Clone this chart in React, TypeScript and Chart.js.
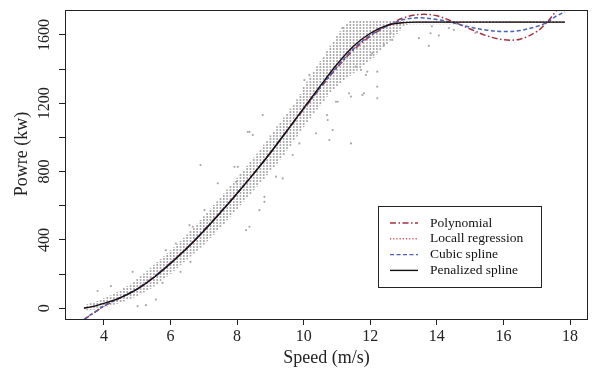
import React, { useEffect, useRef } from 'react';
import { Chart, registerables } from 'chart.js';

Chart.register(...registerables);

const SERIF = '"Liberation Serif", "Times New Roman", serif';

// ---- fitted curves (speed m/s -> power kW) ----
const curveSpeeds = [3.4, 3.6, 3.8, 4.0, 4.5, 5.0, 5.5, 6.0, 6.5, 7.0, 7.5, 8.0, 8.5, 9.0, 9.5, 10.0, 10.5, 11.0, 11.5, 12.0, 12.5, 13.0, 13.5, 14.0, 14.5, 15.0, 15.5, 16.0, 16.5, 17.0, 17.3, 17.6, 17.85];
const polynomial = [-66, -40, -14, 12, 62, 114, 184, 266, 356, 456, 563, 674, 789, 910, 1038, 1165, 1290, 1408, 1512, 1592, 1652, 1700, 1720, 1712, 1676, 1635, 1595, 1572, 1575, 1620, 1672, 1745, 1810];
const localRegression = [2, 9, 18, 29, 63, 113, 181, 263, 353, 453, 561, 673, 789, 911, 1041, 1171, 1300, 1424, 1530, 1606, 1653, 1670, 1675, 1675, 1675, 1675, 1675, 1675, 1675, 1675, 1675, 1675, 1675];
const cubicSpline = [-66, -38, -12, 14, 63, 114, 183, 265, 355, 455, 562, 673, 789, 910, 1039, 1168, 1293, 1412, 1520, 1598, 1652, 1690, 1700, 1690, 1670, 1645, 1628, 1620, 1626, 1650, 1672, 1712, 1735];
const penalizedSpline = [0, 8, 17, 28, 62, 112, 180, 262, 352, 452, 560, 672, 788, 910, 1040, 1172, 1302, 1428, 1535, 1610, 1656, 1672, 1675, 1675, 1675, 1675, 1675, 1675, 1675, 1675, 1675, 1675, 1675];

// ---- observed data: dense columns (range of power per 0.1 m/s bin) ----
const colSpeeds = [3.5, 3.6, 3.7, 3.8, 3.9, 4.0, 4.1, 4.2, 4.3, 4.4, 4.5, 4.6, 4.7, 4.8, 4.9, 5.0, 5.1, 5.2, 5.3, 5.4, 5.5, 5.6, 5.7, 5.8, 5.9, 6.0, 6.1, 6.2, 6.3, 6.4, 6.5, 6.6, 6.7, 6.8, 6.9, 7.0, 7.1, 7.2, 7.3, 7.4, 7.5, 7.6, 7.7, 7.8, 7.9, 8.0, 8.1, 8.2, 8.3, 8.4, 8.5, 8.6, 8.7, 8.8, 8.9, 9.0, 9.1, 9.2, 9.3, 9.4, 9.5, 9.6, 9.7, 9.8, 9.9, 10.0, 10.1, 10.2, 10.3, 10.4, 10.5, 10.6, 10.7, 10.8, 10.9, 11.0, 11.1, 11.2, 11.3, 11.4, 11.5, 11.6, 11.7, 11.8, 11.9, 12.0, 12.1, 12.2, 12.3, 12.4, 12.5, 12.6, 12.7, 12.8, 12.9, 13.0, 13.1, 13.2, 13.3, 13.4, 13.5, 13.6, 13.7, 13.8, 13.9, 14.0, 14.1, 14.2, 14.3, 14.4, 14.5, 14.6, 14.7, 14.8, 14.9, 15.0, 15.1, 15.2, 15.3, 15.4, 15.5, 15.6, 15.7, 15.8, 15.9, 16.0, 16.1, 16.2, 16.3, 16.4, 16.5, 16.6, 16.7, 16.8, 16.9, 17.0, 17.1, 17.2, 17.3, 17.4, 17.5, 17.6, 17.7, 17.8];
const colLow = [-10, -8, -6, -2, 2, 8, 12, 17, 22, 28, 34, 41, 49, 57, 65, 74, 84, 94, 105, 116, 129, 143, 157, 171, 187, 203, 220, 237, 254, 271, 288, 305, 322, 339, 356, 375, 394, 413, 432, 452, 473, 495, 517, 539, 561, 583, 605, 627, 649, 671, 693, 715, 737, 759, 781, 804, 827, 850, 873, 898, 925, 952, 980, 1008, 1035, 1062, 1088, 1114, 1140, 1165, 1190, 1215, 1240, 1262, 1283, 1300, 1316, 1332, 1348, 1363, 1378, 1393, 1408, 1423, 1438, 1453, 1468, 1488, 1508, 1528, 1548, 1568, 1588, 1608, 1628, 1648, 1660, 1664, 1664, 1664, 1664, 1664, 1664, 1664, 1664, 1664, 1664, 1664, 1664, 1664, 1664, 1664, 1664, 1664, 1664, 1666, 1666, 1666, 1666, 1666, 1666, 1666, 1666, 1666, 1666, 1666, 1666, 1666, 1666, 1666, 1666, 1666, 1666, 1666, 1666, 1666, 1666, 1666, 1666, 1666, 1666, 1666, 1666, 1666];
const colHigh = [22, 28, 34, 41, 48, 56, 65, 74, 84, 94, 105, 116, 128, 142, 156, 170, 185, 202, 218, 235, 252, 269, 286, 303, 320, 338, 355, 373, 392, 411, 430, 450, 471, 493, 515, 537, 559, 581, 603, 625, 647, 670, 693, 716, 739, 762, 785, 808, 832, 856, 880, 904, 929, 956, 983, 1010, 1037, 1063, 1089, 1115, 1141, 1167, 1194, 1221, 1252, 1295, 1325, 1355, 1385, 1415, 1445, 1475, 1505, 1535, 1563, 1592, 1620, 1645, 1665, 1680, 1680, 1680, 1680, 1680, 1680, 1680, 1680, 1680, 1680, 1680, 1680, 1680, 1680, 1680, 1680, 1682, 1682, 1682, 1682, 1682, 1682, 1682, 1682, 1682, 1682, 1682, 1682, 1682, 1682, 1682, 1682, 1682, 1682, 1682, 1682, 1682, 1682, 1682, 1682, 1682, 1682, 1682, 1682, 1682, 1682, 1682, 1682, 1682, 1682, 1682, 1682, 1682, 1682, 1682, 1682, 1682, 1682, 1682, 1682, 1682, 1682, 1682, 1682, 1682];

// ---- observed data: scattered individual points ----
const outSpeed = [3.81, 4.21, 4.86, 5.01, 5.26, 5.56, 5.76, 5.86, 6.16, 6.57, 6.3, 6.6, 6.9, 7.42, 7.02, 6.67, 8.27, 8.37, 7.97, 8.02, 8.82, 8.67, 8.37, 8.32, 8.47, 8.77, 7.92, 8.82, 9.17, 9.37, 10.72, 10.7, 10.37, 9.87, 9.67, 11.16, 11.57, 11.72, 11.91, 11.36, 11.76, 12.21, 12.21, 12.06, 10.17, 10.02, 11.81, 10.97, 11.02, 11.42, 11.87, 12.21, 11.81, 11.42, 10.77, 10.87, 12.02, 12.41, 13.76, 13.46, 12.66, 12.61, 13.81, 14.51, 14.36, 14.06, 15.16, 13.85];
const outPower = [101, 129, 213, 12, 18, 51, 148, 340, 379, 487, 213, 271, 838, 731, 574, 477, 457, 477, 740, 828, 623, 574, 1033, 1033, 1014, 1131, 828, 652, 770, 760, 1102, 1131, 1024, 965, 897, 1640, 1414, 1395, 1385, 1258, 1248, 1297, 1229, 1493, 1366, 1336, 1532, 1209, 1209, 1239, 1366, 1385, 1258, 965, 985, 1043, 1483, 1542, 1536, 1581, 1571, 1610, 1610, 1630, 1640, 1596, 1612, 1651];

// ---- axes / legend text ----
const xTicks = [4, 6, 8, 10, 12, 14, 16, 18];
const yTicks = [0, 200, 400, 600, 800, 1000, 1200, 1400, 1600];
const yLabelTicks = [0, 400, 800, 1200, 1600];
const xTitle = 'Speed (m/s)';
const yTitle = 'Powre (kw)';
const legendLabels = ['Polynomial', 'Locall regression', 'Cubic spline', 'Penalized spline'];

const COL_POLY = '#a8323e';
const COL_LOESS = '#e0505c';
const COL_CUBIC = '#4a62b4';
const COL_PEN = '#111111';

const legendStyles = [
  { color: COL_POLY, dash: [6, 2.5, 1.5, 2.5] },
  { color: COL_LOESS, dash: [1.2, 2] },
  { color: COL_CUBIC, dash: [4, 2.5] },
  { color: COL_PEN, dash: [] as number[] },
];

const decorPlugin = {
  id: 'decor',
  afterDraw(chart: any) {
    const { ctx, chartArea: a, scales } = chart;
    ctx.save();
    // frame
    ctx.strokeStyle = '#222';
    ctx.lineWidth = 1;
    ctx.setLineDash([]);
    ctx.strokeRect(a.left + 0.5, a.top + 0.5, a.right - a.left - 1, a.bottom - a.top);

    // y tick labels (rotated, R style)
    ctx.fillStyle = '#222';
    ctx.font = `16px ${SERIF}`;
    ctx.textAlign = 'center';
    ctx.textBaseline = 'middle';
    for (const v of yLabelTicks) {
      const py = scales.y.getPixelForValue(v);
      ctx.save();
      ctx.translate(45, py);
      ctx.rotate(-Math.PI / 2);
      ctx.fillText(String(v), 0, 0);
      ctx.restore();
    }

    // axis titles
    ctx.font = `18px ${SERIF}`;
    ctx.fillText(xTitle, (a.left + a.right) / 2, 358);
    ctx.save();
    ctx.translate(22, 154);
    ctx.rotate(-Math.PI / 2);
    ctx.fillText(yTitle, 0, 0);
    ctx.restore();

    // legend
    const bx = 378.5, by = 206.5, bw = 163, bh = 81;
    ctx.fillStyle = '#ffffff';
    ctx.fillRect(bx, by, bw, bh);
    ctx.strokeStyle = '#222';
    ctx.strokeRect(bx, by, bw, bh);
    ctx.font = `13.5px ${SERIF}`;
    ctx.textAlign = 'left';
    legendLabels.forEach((lab, i) => {
      const y = 223 + i * 15.8;
      const st = legendStyles[i];
      ctx.strokeStyle = st.color;
      ctx.lineWidth = 1.4;
      ctx.setLineDash(st.dash);
      ctx.beginPath();
      ctx.moveTo(390, y);
      ctx.lineTo(418, y);
      ctx.stroke();
      ctx.setLineDash([]);
      ctx.fillStyle = '#111';
      ctx.fillText(lab, 430, y);
    });
    ctx.restore();
  },
};

function toXY(xs: number[], ys: number[]) {
  return xs.map((x, i) => ({ x, y: ys[i] }));
}

export default function App() {
  const ref = useRef<HTMLCanvasElement | null>(null);

  useEffect(() => {
    document.body.style.margin = '0';
    const canvas = ref.current!;
    const pc = document.createElement('canvas');
    pc.width = 1;
    pc.height = 3;
    const pg = pc.getContext('2d')!;
    pg.fillStyle = '#ababab';
    pg.fillRect(0, 0, 1, 2);
    const pattern = canvas.getContext('2d')!.createPattern(pc, 'repeat');

    const lineDs = (label: string, data: number[], color: string, dash: number[], width: number, order: number) => ({
      type: 'line' as const,
      label,
      data: toXY(curveSpeeds, data),
      borderColor: color,
      borderWidth: width,
      borderDash: dash,
      pointRadius: 0,
      fill: false,
      tension: 0.35,
      order,
    });

    const chart = new Chart(canvas, {
      type: 'scatter',
      data: {
        datasets: [
          lineDs(legendLabels[3], penalizedSpline, COL_PEN, [], 1.4, 1),
          lineDs(legendLabels[2], cubicSpline, COL_CUBIC, [4, 2.5], 1.5, 2),
          lineDs(legendLabels[1], localRegression, COL_LOESS, [1.2, 2], 1.4, 3),
          lineDs(legendLabels[0], polynomial, COL_POLY, [6, 2.5, 1.5, 2.5], 1.5, 4),
          {
            type: 'scatter' as const,
            label: 'points',
            data: toXY(outSpeed, outPower),
            backgroundColor: '#aaaaaa',
            borderWidth: 0,
            pointRadius: 1.1,
            order: 5,
          },
          {
            type: 'bar' as const,
            label: 'columns',
            data: colSpeeds.map((s, i) => ({ x: s, y: [colLow[i], colHigh[i]] })),
            backgroundColor: pattern as any,
            borderWidth: 0,
            barThickness: 1,
            grouped: false,
            order: 6,
          } as any,
        ],
      },
      options: {
        animation: false,
        responsive: false,
        events: [],
        layout: { padding: { top: 10, right: 9, left: 0, bottom: 0 } },
        plugins: { legend: { display: false }, tooltip: { enabled: false } },
        scales: {
          x: {
            type: 'linear',
            min: 2.83,
            max: 18.54,
            offset: false,
            afterBuildTicks: (s: any) => {
              s.ticks = xTicks.map((v) => ({ value: v }));
            },
            afterFit: (s: any) => {
              s.height = 51;
            },
            border: { display: false },
            grid: { offset: false, drawOnChartArea: false, drawTicks: true, tickLength: 6, color: '#222', lineWidth: 1 },
            ticks: { color: '#222', font: { family: SERIF, size: 16 }, padding: 2, maxRotation: 0, autoSkip: false },
          },
          y: {
            type: 'linear',
            min: -63,
            max: 1746,
            afterBuildTicks: (s: any) => {
              s.ticks = yTicks.map((v) => ({ value: v }));
            },
            afterFit: (s: any) => {
              s.width = 65;
            },
            border: { display: false },
            grid: { drawOnChartArea: false, drawTicks: true, tickLength: 6, color: '#222', lineWidth: 1 },
            ticks: { display: false },
          },
        },
      } as any,
      plugins: [decorPlugin],
    });
    return () => chart.destroy();
  }, []);

  return (
    <div style={{ position: 'absolute', left: 0, top: 0, width: 597, height: 370, background: '#fff' }}>
      <canvas ref={ref} width={597} height={370} style={{ width: 597, height: 370, display: 'block' }} />
    </div>
  );
}
